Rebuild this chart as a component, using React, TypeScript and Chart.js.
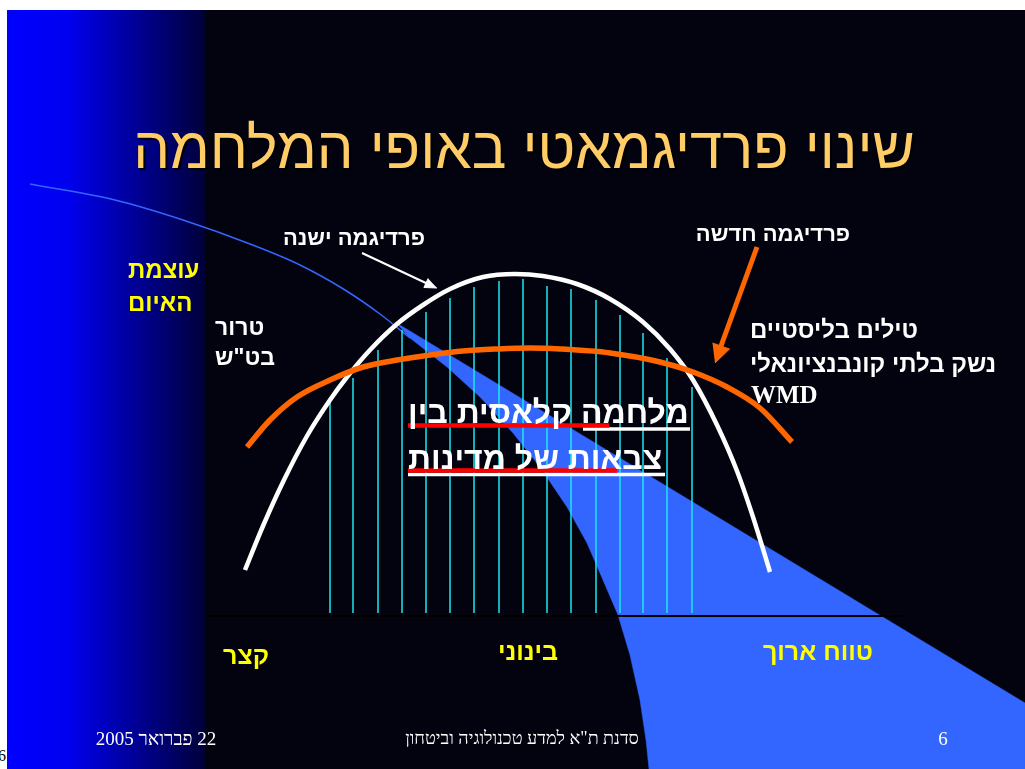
import React, { useEffect, useRef } from "react";
import { Chart, registerables } from "chart.js";

Chart.register(...registerables);

// ---- data (slide units: x = range axis, y = threat-power axis, measured on the slide) ----
const oldParadigmX = [245, 263, 283, 307, 330, 347, 370, 397, 423, 450, 483, 515, 543, 577, 610, 643, 670, 693, 717, 737, 753, 770];
const oldParadigmY = [570, 526, 482, 436, 400, 377, 350, 324, 305, 289, 277, 274, 276, 284, 299, 322, 349, 380, 425, 471, 517, 572];

const newParadigmX = [247, 270, 297, 330, 363, 397, 430, 463, 497, 530, 560, 610, 660, 693, 727, 760, 792];
const newParadigmY = [447, 420, 397, 380, 367, 360, 355, 351, 349, 348, 349, 353, 362, 372, 387, 408, 442];

const hatchX = [330, 353, 378, 402, 426, 450, 474, 499, 523, 547, 571, 596, 620, 643, 667, 692];
const hatchTop = [403, 378, 350, 330, 312, 298, 287, 281, 279, 286, 289, 300, 315, 333, 358, 387];
const hatchBase = 613;

const threatEdgeX = [30, 115, 183, 250, 300, 345, 380, 410, 447, 480, 513, 540, 567, 587, 603, 618, 630, 640, 646, 649];
const threatEdgeY = [184, 200, 220, 244, 265, 290, 314, 338, 367, 397, 433, 467, 507, 543, 580, 615, 655, 700, 740, 769];
const beamTopX = [395, 1025];
const beamTopY = [322, 703];
const beamCornerX = [1025];
const beamCornerY = [769];
const beamStartX = 410;

const rangeAxisX = [207, 905];
const rangeAxisY = [616, 616];

const oldArrowX = [362, 428];
const oldArrowY = [253, 284];
const oldArrowHeadX = [437, 423.9, 428.1];
const oldArrowHeadY = [288, 287.5, 278.5];

const newArrowX = [757, 721];
const newArrowY = [247, 346];
const newArrowHeadX = [715, 729.5, 712.5];
const newArrowHeadY = [363, 349, 343];

const redMark1X = [408, 609];
const redMark1Y = [425.5, 425.5];
const redMark2X = [408, 617];
const redMark2Y = [470.5, 470.5];
const underline1X = [583, 690];
const underline1Y = [429, 429];
const underline2X = [408, 665];
const underline2Y = [474.5, 474.5];

const titleText = "שינוי פרדיגמאטי באופי המלחמה";
const oldParadigmLabel = "פרדיגמה ישנה";
const newParadigmLabel = "פרדיגמה חדשה";
const threatLabel = ["עוצמת", "האיום"];
const terrorLabel = ["טרור", 'בט"ש'];
const newThreatLabel = ["טילים בליסטיים", "נשק בלתי קונבנציונאלי", "WMD"];
const classicLabel = ["מלחמה קלאסית בין", "צבאות של מדינות"];
const rangeLabels = ["קצר", "בינוני", "טווח ארוך"];
const footerDate = "22 פברואר 2005";
const footerOrg = 'סדנת ת"א למדע טכנולוגיה וביטחון';
const pageNumber = "6";

const pts = (xs: number[], ys: number[]) => xs.map((x, i) => ({ x, y: ys[i] }));

const SANS = "'Liberation Sans', Arial, sans-serif";
const SERIF = "'Liberation Serif', 'Times New Roman', serif";

function Label(props: {
  text: string;
  x: number;
  y: number;
  size: number;
  color: string;
  bold?: boolean;
  align?: "center" | "left";
  font?: string;
  shadow?: string;
}) {
  const { text, x, y, size, color, bold, align = "center", font = SANS, shadow } = props;
  return (
    <div
      style={{
        position: "absolute",
        left: x,
        top: y,
        transform: align === "center" ? "translate(-50%, -50%)" : "translate(0, -50%)",
        fontFamily: font,
        fontSize: size,
        fontWeight: bold ? "bold" : "normal",
        color,
        lineHeight: 1,
        whiteSpace: "nowrap",
        direction: "rtl",
        textShadow: shadow,
      }}
    >
      {text}
    </div>
  );
}

export default function App() {
  const canvasRef = useRef<HTMLCanvasElement | null>(null);

  useEffect(() => {
    document.body.style.overflow = "hidden";
    const canvas = canvasRef.current;
    if (!canvas) return;

    const hatchData: { x: number; y: number | null }[] = [];
    hatchX.forEach((x, i) => {
      hatchData.push({ x, y: hatchBase }, { x, y: hatchTop[i] }, { x, y: null });
    });

    const beamPoly = [
      ...pts(beamTopX, beamTopY),
      ...pts(beamCornerX, beamCornerY),
      ...pts(threatEdgeX, threatEdgeY).filter((p) => p.x >= beamStartX).reverse(),
    ];
    const thinLine = pts(threatEdgeX, threatEdgeY).filter((p) => p.x <= beamStartX);

    const base = { pointRadius: 0, pointHoverRadius: 0, fill: false, tension: 0 };

    const chart = new Chart(canvas, {
      type: "line",
      data: {
        datasets: [
          { ...base, data: pts(redMark1X, redMark1Y), borderColor: "#ff0000", borderWidth: 4.5, order: 0 },
          { ...base, data: pts(redMark2X, redMark2Y), borderColor: "#ff0000", borderWidth: 4.5, order: 0 },
          { ...base, data: pts(underline1X, underline1Y), borderColor: "#ffffff", borderWidth: 3.5, order: 1 },
          { ...base, data: pts(underline2X, underline2Y), borderColor: "#ffffff", borderWidth: 3.5, order: 1 },
          { ...base, data: pts(newArrowX, newArrowY), borderColor: "#ff6600", borderWidth: 5, order: 2 },
          {
            ...base,
            data: pts(newArrowHeadX, newArrowHeadY),
            borderColor: "#ff6600",
            backgroundColor: "#ff6600",
            borderWidth: 1,
            fill: "shape",
            order: 2,
          },
          { ...base, data: pts(oldArrowX, oldArrowY), borderColor: "#ffffff", borderWidth: 2, order: 2 },
          {
            ...base,
            data: pts(oldArrowHeadX, oldArrowHeadY),
            borderColor: "#ffffff",
            backgroundColor: "#ffffff",
            borderWidth: 1,
            fill: "shape",
            order: 2,
          },
          {
            ...base,
            data: pts(newParadigmX, newParadigmY),
            borderColor: "#ff6600",
            borderWidth: 5.5,
            cubicInterpolationMode: "monotone",
            order: 3,
          },
          {
            ...base,
            data: pts(oldParadigmX, oldParadigmY),
            borderColor: "#ffffff",
            borderWidth: 4.5,
            cubicInterpolationMode: "monotone",
            order: 4,
          },
          { ...base, data: hatchData, borderColor: "#1ae8f0", borderWidth: 1.5, spanGaps: false, order: 5 },
          { ...base, data: pts(rangeAxisX, rangeAxisY), borderColor: "#000000", borderWidth: 2, order: 6 },
          {
            ...base,
            data: thinLine,
            borderColor: "#3366ff",
            borderWidth: 1.5,
            cubicInterpolationMode: "monotone",
            order: 7,
          },
          {
            ...base,
            data: beamPoly,
            borderColor: "#3366ff",
            backgroundColor: "#3366ff",
            borderWidth: 0.5,
            fill: "shape",
            order: 8,
          },
        ] as any,
      },
      options: {
        animation: false,
        responsive: false,
        devicePixelRatio: 1,
        events: [],
        layout: { padding: 0 },
        plugins: { legend: { display: false }, tooltip: { enabled: false }, title: { display: false } },
        scales: {
          x: { type: "linear", min: 7, max: 1025, display: false },
          y: { type: "linear", min: 10, max: 769, reverse: true, display: false },
        },
      },
    });
    return () => chart.destroy();
  }, []);

  return (
    <div style={{ position: "absolute", left: 0, top: 0, width: 1025, height: 769, overflow: "hidden", background: "#ffffff" }}>
      <div
        style={{
          position: "absolute",
          left: 7,
          top: 10,
          width: 1018,
          height: 759,
          background: "linear-gradient(90deg, #0000ff 0px, #0000f0 60px, #00003c 197px, #03030f 199px, #03030f 100%)",
        }}
      />
      <canvas ref={canvasRef} width={1018} height={759} style={{ position: "absolute", left: 7, top: 10, width: 1018, height: 759 }} />

      <Label text={titleText} x={524} y={148} size={58} color="#ffcc66" shadow="2px 2px 1px #000000" />

      <Label text={oldParadigmLabel} x={354} y={238} size={22} color="#ffffff" bold />
      <Label text={newParadigmLabel} x={773} y={234} size={22} color="#ffffff" bold />

      <Label text={threatLabel[0]} x={128} y={270} size={24} color="#ffff00" bold align="left" />
      <Label text={threatLabel[1]} x={128} y={303} size={24} color="#ffff00" bold align="left" />

      <Label text={terrorLabel[0]} x={215} y={327} size={23} color="#ffffff" bold align="left" />
      <Label text={terrorLabel[1]} x={215} y={357} size={23} color="#ffffff" bold align="left" />

      <Label text={newThreatLabel[0]} x={750} y={330} size={24} color="#ffffff" bold align="left" />
      <Label text={newThreatLabel[1]} x={750} y={364} size={24} color="#ffffff" bold align="left" />
      <Label text={newThreatLabel[2]} x={751} y={394} size={25} color="#ffffff" bold align="left" font={SERIF} />

      <Label text={classicLabel[0]} x={408} y={412} size={32} color="#ffffff" bold align="left" />
      <Label text={classicLabel[1]} x={408} y={458} size={32} color="#ffffff" bold align="left" />

      <Label text={rangeLabels[0]} x={246} y={655} size={25} color="#ffff00" bold />
      <Label text={rangeLabels[1]} x={528} y={651} size={25} color="#ffff00" bold />
      <Label text={rangeLabels[2]} x={818} y={651} size={25} color="#ffff00" bold />

      <Label text={footerDate} x={156} y={738} size={19} color="#ffffff" font={SERIF} />
      <Label text={footerOrg} x={522} y={738} size={18} color="#ffffff" font={SERIF} />
      <Label text={pageNumber} x={943} y={738} size={19} color="#ffffff" font={SERIF} />
      <Label text={pageNumber} x={-2} y={756} size={16} color="#000000" font={SERIF} align="left" />
    </div>
  );
}
